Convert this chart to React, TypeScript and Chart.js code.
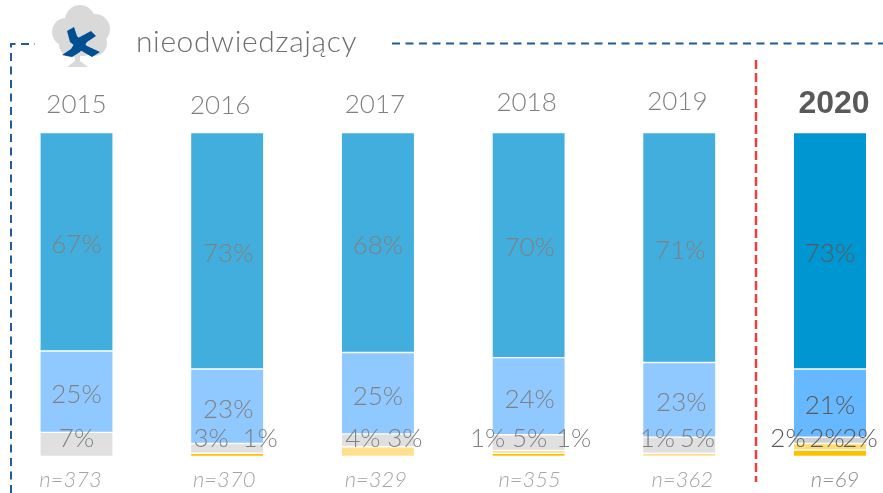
import React, { useEffect, useRef } from "react";
import { Chart, registerables } from "chart.js";

Chart.register(...registerables);

const years = ["2015", "2016", "2017", "2018", "2019", "2020"];
const sampleSizes = ["n=373", "n=370", "n=329", "n=355", "n=362", "n=69"];

const definitelyYes = [67.45, 73, 67.9, 69.5, 71, 73];
const ratherYes = [25.1, 23, 25.1, 23.8, 23, 21];
const grey = [7.45, 3, 4, 4.8, 5, 2];
const lightYellow = [null, null, 3, 0.95, 1, 2];
const darkYellow = [null, 1, null, 0.95, null, 2];

const FONT = "Lato, 'Open Sans', sans-serif";

// layout nudges (px) for the text that does not sit on its bar's centre
const yearDx = [0, -7, -3, -2, -2, 4];
const yearBaseline = [113, 114, 113, 111, 110, 113];
const sampleDx = [-6, -3, -2, 1, 3, 5];
const labelDx = [
  [0, 1, 0, 1, 1, 0],
  [0, 1, 0, 1, 2, 0],
  [0, -16, -15, 1, 18, -3],
  [0, 0, 27, -41, -22, -42],
  [0, 33, 0, 45, 0, 30],
];

const seriesColors = [
  ["#41AEDD", "#41AEDD", "#41AEDD", "#41AEDD", "#41AEDD", "#0096D2"],
  ["#8FC9FF", "#8FC9FF", "#8FC9FF", "#8FC9FF", "#8FC9FF", "#66B8FF"],
  ["#E0E0E0", "#E0E0E0", "#E0E0E0", "#E0E0E0", "#E0E0E0", "#D0D0D0"],
  ["#FFE08C", "#FFE08C", "#FFE08C", "#FFE08C", "#FFE08C", "#FFDD70"],
  ["#FFC000", "#FFC000", "#FFC000", "#FFC000", "#FFC000", "#FFC000"],
];

function fillPolygon(ctx: CanvasRenderingContext2D, pts: number[][]) {
  ctx.beginPath();
  pts.forEach(([x, y], i) => (i === 0 ? ctx.moveTo(x, y) : ctx.lineTo(x, y)));
  ctx.closePath();
  ctx.fill();
}

function drawIcon(ctx: CanvasRenderingContext2D) {
  ctx.save();
  ctx.fillStyle = "#D9D9D9";
  const blobs = [
    [80, 20, 15],
    [66, 32, 14],
    [95, 29, 15],
    [72, 44, 13],
    [94, 43, 13],
    [82, 38, 18],
  ];
  blobs.forEach(([x, y, r]) => {
    ctx.beginPath();
    ctx.arc(x, y, r, 0, Math.PI * 2);
    ctx.fill();
  });
  ctx.fillRect(75, 50, 5, 14);
  fillPolygon(ctx, [
    [75, 61],
    [80, 61],
    [88, 67],
    [67, 67],
  ]);

  ctx.fillStyle = "#004F93";
  fillPolygon(ctx, [
    [67, 31],
    [74, 27],
    [77, 36],
    [87, 46],
    [100, 52],
    [92, 57],
    [80, 50],
    [70, 42],
  ]);
  fillPolygon(ctx, [
    [91, 31],
    [96, 36],
    [87, 42],
    [80, 52],
    [72, 57],
    [62, 55],
    [71, 49],
    [78, 38],
  ]);
  ctx.restore();
}

const overlay = {
  id: "overlay",
  afterDatasetsDraw(chart: any) {
    const ctx: CanvasRenderingContext2D = chart.ctx;
    const x = chart.scales.x;

    ctx.save();
    ctx.strokeStyle = "#1F5C99";
    ctx.lineWidth = 2;
    ctx.setLineDash([8, 5.5]);
    ctx.beginPath();
    ctx.moveTo(392, 43.5);
    ctx.lineTo(883, 43.5);
    ctx.moveTo(11, 493);
    ctx.lineTo(11, 44);
    ctx.lineTo(35, 44);
    ctx.stroke();

    ctx.strokeStyle = "#E8423F";
    ctx.lineWidth = 2.5;
    ctx.setLineDash([9, 4]);
    ctx.beginPath();
    ctx.moveTo(756, 60);
    ctx.lineTo(756, 482);
    ctx.stroke();
    ctx.setLineDash([]);

    drawIcon(ctx);

    ctx.textBaseline = "alphabetic";
    ctx.textAlign = "left";
    ctx.fillStyle = "#6E6E6E";
    ctx.font = `300 30px ${FONT}`;
    (ctx as any).letterSpacing = "0.6px";
    ctx.fillText("nieodwiedzający", 136, 52);
    (ctx as any).letterSpacing = "0px";

    ctx.textAlign = "center";
    years.forEach((year, i) => {
      const cx = x.getPixelForValue(i);
      const last = i === years.length - 1;
      ctx.fillStyle = last ? "#595959" : "#808080";
      ctx.font = last ? "bold 32px 'Liberation Sans', sans-serif" : `300 26px ${FONT}`;
      ctx.fillText(year, cx + yearDx[i], yearBaseline[i]);
      ctx.fillStyle = last ? "#8C8C8C" : "#A6A6A6";
      ctx.font = `italic 300 22px ${FONT}`;
      ctx.fillText(sampleSizes[i], cx + sampleDx[i], 487);
    });

    ctx.textBaseline = "middle";
    ctx.font = `300 26px ${FONT}`;
    chart.data.datasets.forEach((ds: any, d: number) => {
      const meta = chart.getDatasetMeta(d);
      ds.data.forEach((v: number | null, i: number) => {
        if (v == null) return;
        const bar = meta.data[i];
        const y = d === 0 ? bar.y + (bar.base - bar.y) / 2 + 3 : d === 1 ? bar.y + (bar.base - bar.y) / 2 + 3 : 439;
        ctx.fillStyle = i === years.length - 1 ? "#595959" : "#808080";
        ctx.fillText(`${Math.round(v)}%`, bar.x + labelDx[d][i], y);
      });
    });
    ctx.restore();
  },
};

export default function App() {
  const ref = useRef<HTMLCanvasElement>(null);
  useEffect(() => {
    const series = [definitelyYes, ratherYes, grey, lightYellow, darkYellow];
    const chart = new Chart(ref.current!, {
      type: "bar",
      data: {
        labels: years,
        datasets: series.map((data, d) => ({
          data,
          backgroundColor: seriesColors[d],
          borderColor: "#FFFFFF",
          borderWidth: { top: 1, bottom: 1, left: 0, right: 0 },
          borderSkipped: false,
          barThickness: 72,
          clip: false,
        })),
      } as any,
      options: {
        responsive: false,
        animation: false,
        layout: { padding: { left: 76.5, right: 53, top: 132.5, bottom: 36.5 } },
        plugins: { legend: { display: false }, tooltip: { enabled: false } },
        scales: {
          x: { stacked: true, offset: false, display: false },
          y: { stacked: true, reverse: true, min: 0, max: 100, display: false },
        },
      } as any,
      plugins: [overlay],
    });
    return () => chart.destroy();
  }, []);
  return (
    <div style={{ position: "absolute", left: 0, top: 0, width: 883, height: 493, overflow: "hidden" }}>
      <canvas ref={ref} width={883} height={493} style={{ display: "block" }} />
    </div>
  );
}
